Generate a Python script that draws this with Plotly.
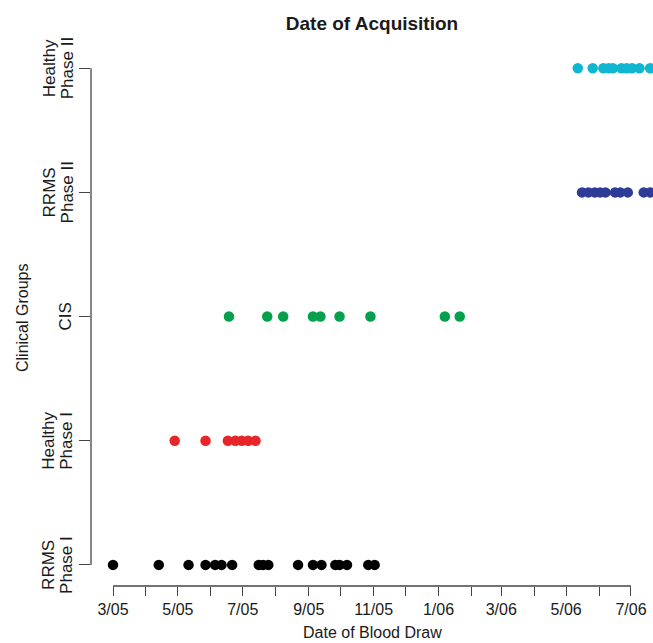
import plotly.graph_objects as go

# ---- data ----
group_line1 = ["RRMS", "Healthy", "CIS", "RRMS", "Healthy"]
group_line2 = ["Phase I", "Phase I", "", "Phase II", "Phase II"]

rrms1_dates = ["2005-03-01", "2005-04-13", "2005-05-11", "2005-05-27", "2005-06-05", "2005-06-11",
               "2005-06-21", "2005-07-16", "2005-07-20", "2005-07-25", "2005-08-22", "2005-09-05",
               "2005-09-13", "2005-09-26", "2005-09-30", "2005-10-07", "2005-10-27", "2005-11-02"]
healthy1_dates = ["2005-04-28", "2005-05-27", "2005-06-17", "2005-06-24", "2005-06-30",
                  "2005-07-06", "2005-07-13"]
cis_dates = ["2005-06-18", "2005-07-24", "2005-08-08", "2005-09-05", "2005-09-12", "2005-09-30",
             "2005-10-29", "2006-01-07", "2006-01-21"]
rrms2_dates = ["2006-05-16", "2006-05-22", "2006-05-28", "2006-06-02", "2006-06-07", "2006-06-16",
               "2006-06-21", "2006-06-28", "2006-07-13", "2006-07-19"]
healthy2_dates = ["2006-05-12", "2006-05-26", "2006-06-05", "2006-06-10", "2006-06-14", "2006-06-22",
                  "2006-06-27", "2006-07-02", "2006-07-09", "2006-07-19"]

series = [rrms1_dates, healthy1_dates, cis_dates, rrms2_dates, healthy2_dates]
colors = ["#000000", "#e8252a", "#05a04c", "#2e3b98", "#10b5d0"]

tick_dates = ["2005-03-01", "2005-04-01", "2005-05-01", "2005-06-01", "2005-07-01", "2005-08-01",
              "2005-09-01", "2005-10-01", "2005-11-01", "2005-12-01", "2006-01-01", "2006-02-01",
              "2006-03-01", "2006-04-01", "2006-05-01", "2006-06-01", "2006-07-01"]
tick_labels = ["3/05", "", "5/05", "", "7/05", "", "9/05", "", "11/05", "", "1/06", "",
               "3/06", "", "5/06", "", "7/06"]

FONT = "Liberation Sans, Arial, Helvetica, sans-serif"
AX = "#444444"
TXT = "#1a1a1a"
FS = 17

W, H = 653, 643

fig = go.Figure()
for i, (d, c) in enumerate(zip(series, colors)):
    fig.add_trace(go.Scatter(
        x=d, y=[i] * len(d), mode="markers",
        marker=dict(color=c, size=10.5, line=dict(width=0)),
        cliponaxis=False, showlegend=False, hoverinfo="x"))

# detached R-style axis lines
fig.add_shape(type="line", xref="x", yref="paper", x0=tick_dates[0], x1=tick_dates[-1], y0=0, y1=0,
              line=dict(color=AX, width=1.3))
fig.add_shape(type="line", xref="paper", yref="y", x0=0, x1=0, y0=0, y1=len(series) - 1,
              line=dict(color=AX, width=1.3))

annotations = [
    dict(text="Date of Blood Draw", xref="paper", yref="paper", x=(372 - 91) / 562, y=0,
         yanchor="middle", xanchor="center", yshift=-(632 - 586), showarrow=False,
         font=dict(size=FS - 1, family=FONT, color=TXT)),
    dict(text="Clinical Groups", xref="paper", yref="paper", x=0, y=(586 - 318) / 536,
         xanchor="center", yanchor="middle", xshift=-(91 - 22), textangle=-90, showarrow=False,
         font=dict(size=FS - 1, family=FONT, color=TXT)),
]
for i, (l1, l2) in enumerate(zip(group_line1, group_line2)):
    if l2:
        annotations.append(dict(text=l1, xref="paper", yref="y", x=0, y=i, xanchor="center",
                                yanchor="middle", xshift=-(91 - 49), textangle=-90, showarrow=False,
                                font=dict(size=FS, family=FONT, color=TXT)))
        annotations.append(dict(text=l2, xref="paper", yref="y", x=0, y=i, xanchor="center",
                                yanchor="middle", xshift=-(91 - 67), textangle=-90, showarrow=False,
                                font=dict(size=FS, family=FONT, color=TXT)))
    else:
        annotations.append(dict(text=l1, xref="paper", yref="y", x=0, y=i, xanchor="center",
                                yanchor="middle", xshift=-(91 - 66), textangle=-90, showarrow=False,
                                font=dict(size=FS, family=FONT, color=TXT)))

fig.update_layout(
    width=W, height=H,
    margin=dict(l=91, r=0, t=50, b=57),
    plot_bgcolor="white", paper_bgcolor="white",
    font=dict(family=FONT, size=FS, color=TXT),
    title=dict(text="<b>Date of Acquisition</b>", x=372 / W, xref="container", xanchor="center",
               y=1 - 23 / H, yref="container", yanchor="middle",
               font=dict(size=19, family=FONT, color=TXT)),
    xaxis=dict(range=["2005-02-08 07:00", "2006-07-21 17:00"], showgrid=False, zeroline=False,
               showline=False, ticks="outside", ticklen=9, tickwidth=1.3, tickcolor=AX,
               tickvals=tick_dates, ticktext=tick_labels, tickangle=0, automargin=False,
               ticklabelstandoff=0,
               tickfont=dict(size=FS - 1, family=FONT, color=TXT)),
    yaxis=dict(range=[-0.17, 4.147], showgrid=False, zeroline=False, showline=False,
               ticks="outside", ticklen=11, tickwidth=1.3, tickcolor=AX,
               tickvals=list(range(len(series))), showticklabels=False, automargin=False),
    annotations=annotations,
)

fig.write_html(
    "out.html",
    config={"displayModeBar": False},
    post_script="document.body.style.margin='0';document.documentElement.style.overflow='hidden';",
)
